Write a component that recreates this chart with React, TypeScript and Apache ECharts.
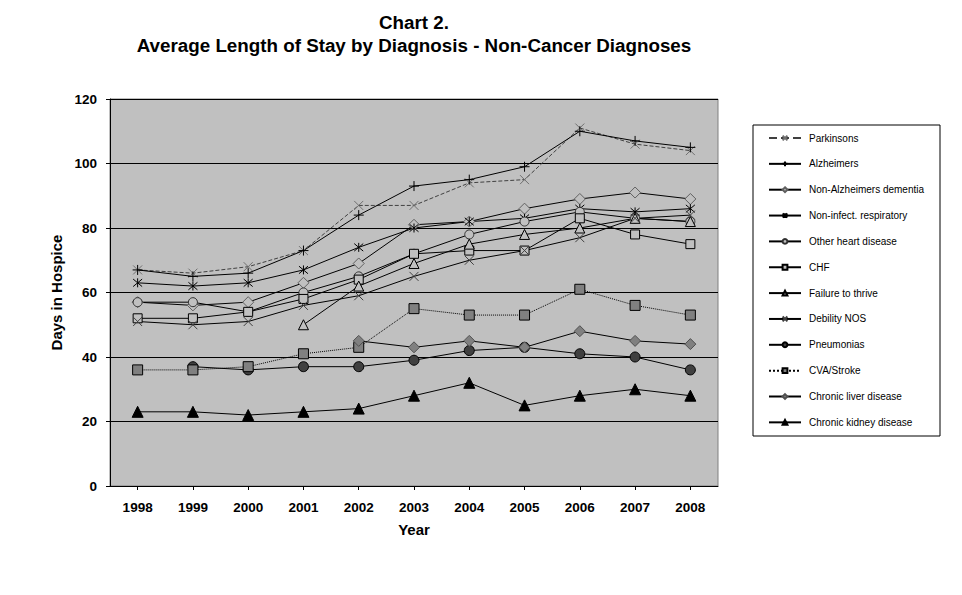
import React, { useEffect, useRef } from 'react';
import * as echarts from 'echarts';

const years = ['1998', '1999', '2000', '2001', '2002', '2003', '2004', '2005', '2006', '2007', '2008'];
const parkinsons = [67, 66, 68, 73, 87, 87, 94, 95, 111, 106, 104];
const alzheimers = [67, 65, 66, 73, 84, 93, 95, 99, 110, 107, 105];
const nonAlzDementia = [57, 56, 57, 63, 69, 81, 82, 86, 89, 91, 89];
const nonInfectResp = [63, 62, 63, 67, 74, 80, 82, 83, 86, 85, 86];
const otherHeart = [57, 57, 54, 60, 65, 72, 78, 82, 85, 83, 82];
const chf = [52, 52, 54, 58, 64, 72, 73, 73, 83, 78, 75];
const failureToThrive = [null, null, null, 50, 62, 69, 75, 78, 80, 83, 82];
const debility = [51, 50, 51, 56, 59, 65, 70, 73, 77, 83, 84];
const pneumonias = [null, 37, 36, 37, 37, 39, 42, 43, 41, 40, 36];
const cvaStroke = [36, 36, 37, 41, 43, 55, 53, 53, 61, 56, 53];
const chronicLiver = [null, null, null, null, 45, 43, 45, 43, 48, 45, 44];
const chronicKidney = [23, 23, 22, 23, 24, 28, 32, 25, 28, 30, 28];

const yTicks = { min: 0, max: 120, interval: 20 };

const X_PATH = 'path://M0,0L10,10M10,0L0,10';
const PLUS_PATH = 'path://M5,0L5,10M0,5L10,5';
const STAR_PATH = 'path://M0,0L10,10M10,0L0,10M5,-1L5,11';

const FONT = 'Liberation Sans, Arial, sans-serif';
const BG = '#c0c0c0';

function mk(
  name: string,
  data: (number | null)[],
  symbol: string,
  size: number,
  fill: string,
  border: string,
  lineColor: string,
  lineType: string = 'solid'
) {
  return {
    name,
    type: 'line',
    data,
    symbol,
    symbolSize: size,
    connectNulls: false,
    lineStyle: { color: lineColor, width: 1, type: lineType },
    itemStyle: { color: fill, borderColor: border, borderWidth: 1 },
    emphasis: { disabled: true },
  };
}

export default function App() {
  const ref = useRef<HTMLDivElement>(null);
  useEffect(() => {
    if (!ref.current) return;
    const chart = echarts.init(ref.current, undefined, { renderer: 'svg' });
    const series = [
      mk('Parkinsons', parkinsons, X_PATH, 9, '#707070', '#707070', '#404040', 'dashed'),
      mk('Alzheimers', alzheimers, PLUS_PATH, 10, '#000', '#000', '#000'),
      mk('Non-Alzheimers dementia', nonAlzDementia, 'diamond', 11, BG, '#606060', '#000'),
      mk('Non-infect. respiratory', nonInfectResp, STAR_PATH, 9, '#000', '#000', '#000'),
      mk('Other heart disease', otherHeart, 'circle', 9, BG, '#303030', '#000'),
      mk('CHF', chf, 'rect', 9, BG, '#000', '#000'),
      mk('Failure to thrive', failureToThrive, 'triangle', 10, BG, '#000', '#000'),
      mk('Debility NOS', debility, X_PATH, 9, '#404040', '#404040', '#000'),
      mk('Pneumonias', pneumonias, 'circle', 10, '#404040', '#000', '#000'),
      mk('CVA/Stroke', cvaStroke, 'rect', 10, '#808080', '#000', '#000', 'dotted'),
      mk('Chronic liver disease', chronicLiver, 'diamond', 11, '#808080', '#505050', '#000'),
      mk('Chronic kidney disease', chronicKidney, 'triangle', 11, '#000', '#000', '#000'),
    ];
    chart.setOption({
      animation: false,
      textStyle: { fontFamily: FONT },
      title: {
        text: 'Chart 2.\nAverage Length of Stay by Diagnosis - Non-Cancer Diagnoses',
        left: 409,
        top: 6,
        textAlign: 'center',
        textStyle: { fontSize: 18.8, fontWeight: 'bold', color: '#000', lineHeight: 23, fontFamily: FONT },
      },
      grid: {
        left: 110,
        right: 244,
        top: 99,
        bottom: 109,
        show: true,
        backgroundColor: BG,
        borderColor: '#808080',
        borderWidth: 1,
      },
      graphic: [
        {
          type: 'rect',
          shape: { x: 753, y: 125, width: 187, height: 311 },
          style: { fill: '#fff', stroke: '#000', lineWidth: 1 },
          z: 0,
        },
      ],
      legend: {
        orient: 'vertical',
        left: 768,
        top: 133,
        itemWidth: 32,
        itemHeight: 6,
        itemGap: 15.85,
        padding: 0,
        textStyle: { fontSize: 10, color: '#000', fontFamily: FONT, padding: [0, 0, 0, 3] },
        data: series.map((s) => s.name),
        z: 5,
      },
      xAxis: {
        type: 'category',
        data: years,
        boundaryGap: true,
        name: 'Year',
        nameLocation: 'middle',
        nameGap: 36,
        nameTextStyle: { fontSize: 15, fontWeight: 'bold', color: '#000', fontFamily: FONT },
        axisLine: { show: true, lineStyle: { color: '#000', width: 1 } },
        axisTick: { show: true, alignWithLabel: true, length: 4, lineStyle: { color: '#000' } },
        axisLabel: { margin: 14, fontSize: 13.5, fontWeight: 'bold', color: '#000', fontFamily: FONT },
        splitLine: { show: false },
      },
      yAxis: {
        type: 'value',
        min: yTicks.min,
        max: yTicks.max,
        interval: yTicks.interval,
        name: 'Days in Hospice',
        nameLocation: 'middle',
        nameGap: 43,
        nameRotate: 90,
        nameTextStyle: { fontSize: 15, fontWeight: 'bold', color: '#000', fontFamily: FONT },
        axisLine: { show: true, lineStyle: { color: '#000', width: 1 } },
        axisTick: { show: true, length: 4, lineStyle: { color: '#000' } },
        axisLabel: { margin: 13, fontSize: 13.5, fontWeight: 'bold', color: '#000', fontFamily: FONT },
        splitLine: { show: true, lineStyle: { color: '#000', width: 1 } },
      },
      series,
    });
    return () => chart.dispose();
  }, []);
  return <div ref={ref} style={{ width: 962, height: 595, position: 'absolute', left: 0, top: 0 }} />;
}
